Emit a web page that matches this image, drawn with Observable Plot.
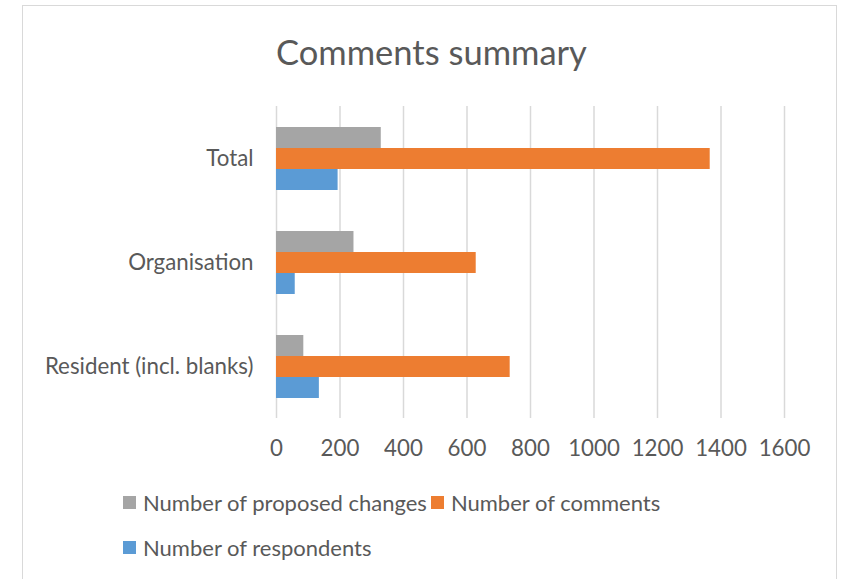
<!DOCTYPE html>
<html>
<head>
<meta charset="utf-8">
<script src="https://cdn.jsdelivr.net/npm/d3@7"></script>
<script src="https://cdn.jsdelivr.net/npm/@observablehq/plot@0.6"></script>
<style>
  html, body { margin: 0; padding: 0; background: #fff; }
  #frame { position: relative; width: 841px; height: 579px; overflow: hidden; font-family: Lato, "Open Sans", sans-serif; color: #595959; }
  #border { position: absolute; left: 22px; top: 5px; width: 815px; height: 600px; border: 1.5px solid #d9d9d9; box-sizing: border-box; }
  #title { position: absolute; left: 0; width: 863px; top: 31px; text-align: center; font-size: 34.5px; color: #595959; }
  #chart { position: absolute; left: 0; top: 100px; }
  .row { position: absolute; left: 123px; display: flex; align-items: center; gap: 4px; height: 28px; }
  .leg { display: flex; align-items: center; font-size: 22px; color: #595959; white-space: nowrap; }
  .sw { width: 13px; height: 13px; margin-right: 7px; }
</style>
</head>
<body>
<div id="frame">
  <div id="border"></div>
  <div id="title">Comments summary</div>
  <div id="chart"></div>
  <div id="legend"></div>
</div>
<script>
const categories = ["Total", "Organisation", "Resident (incl. blanks)"];
const seriesNames = ["Number of proposed changes", "Number of comments", "Number of respondents"];
const seriesColors = ["#a5a5a5", "#ed7d31", "#5b9bd5"];
const proposedChanges = [330, 244, 86];
const comments = [1366, 629, 736];
const respondents = [194, 59, 135];
const xTicks = [0, 200, 400, 600, 800, 1000, 1200, 1400, 1600];

const seriesValues = [proposedChanges, comments, respondents];
const rows = [];
categories.forEach((c, i) => {
  seriesNames.forEach((s, j) => rows.push({category: c, series: s, value: seriesValues[j][i]}));
});

const chart = Plot.plot({
  width: 841,
  height: 360,
  marginLeft: 276,
  marginRight: 57,
  marginTop: 6,
  marginBottom: 42,
  style: {fontFamily: "Lato, 'Open Sans', sans-serif", fontSize: "22.3px", color: "#595959", background: "transparent"},
  x: {domain: [0, 1600], ticks: xTicks},
  fy: {domain: categories, padding: 0, label: null},
  y: {domain: seriesNames, paddingInner: 0, paddingOuter: 0.92, axis: null},
  color: {domain: seriesNames, range: seriesColors},
  marks: [
    Plot.ruleX(xTicks, {stroke: "#d9d9d9", strokeWidth: 1.5}),
    Plot.barX(rows, {fy: "category", y: "series", x: "value", fill: "series"}),
    Plot.axisX({ticks: xTicks, tickFormat: d => String(d), tickSize: 0, tickPadding: 22, label: null, fill: "#595959", facetAnchor: "bottom"}),
    Plot.axisFy({anchor: "left", tickSize: 0, tickPadding: 23, label: null, fill: "#595959"})
  ]
});
document.getElementById("chart").appendChild(chart);

const legend = document.getElementById("legend");
const legendRows = [[0, 1], [2]];
const rowCenters = [502, 547];
legendRows.forEach((idx, r) => {
  const row = document.createElement("div");
  row.className = "row";
  row.style.top = (rowCenters[r] - 14) + "px";
  idx.forEach(j => {
    const d = document.createElement("div");
    d.className = "leg";
    const sw = document.createElement("span");
    sw.className = "sw";
    sw.style.background = seriesColors[j];
    d.appendChild(sw);
    d.appendChild(document.createTextNode(seriesNames[j]));
    row.appendChild(d);
  });
  legend.appendChild(row);
});
</script>
</body>
</html>
